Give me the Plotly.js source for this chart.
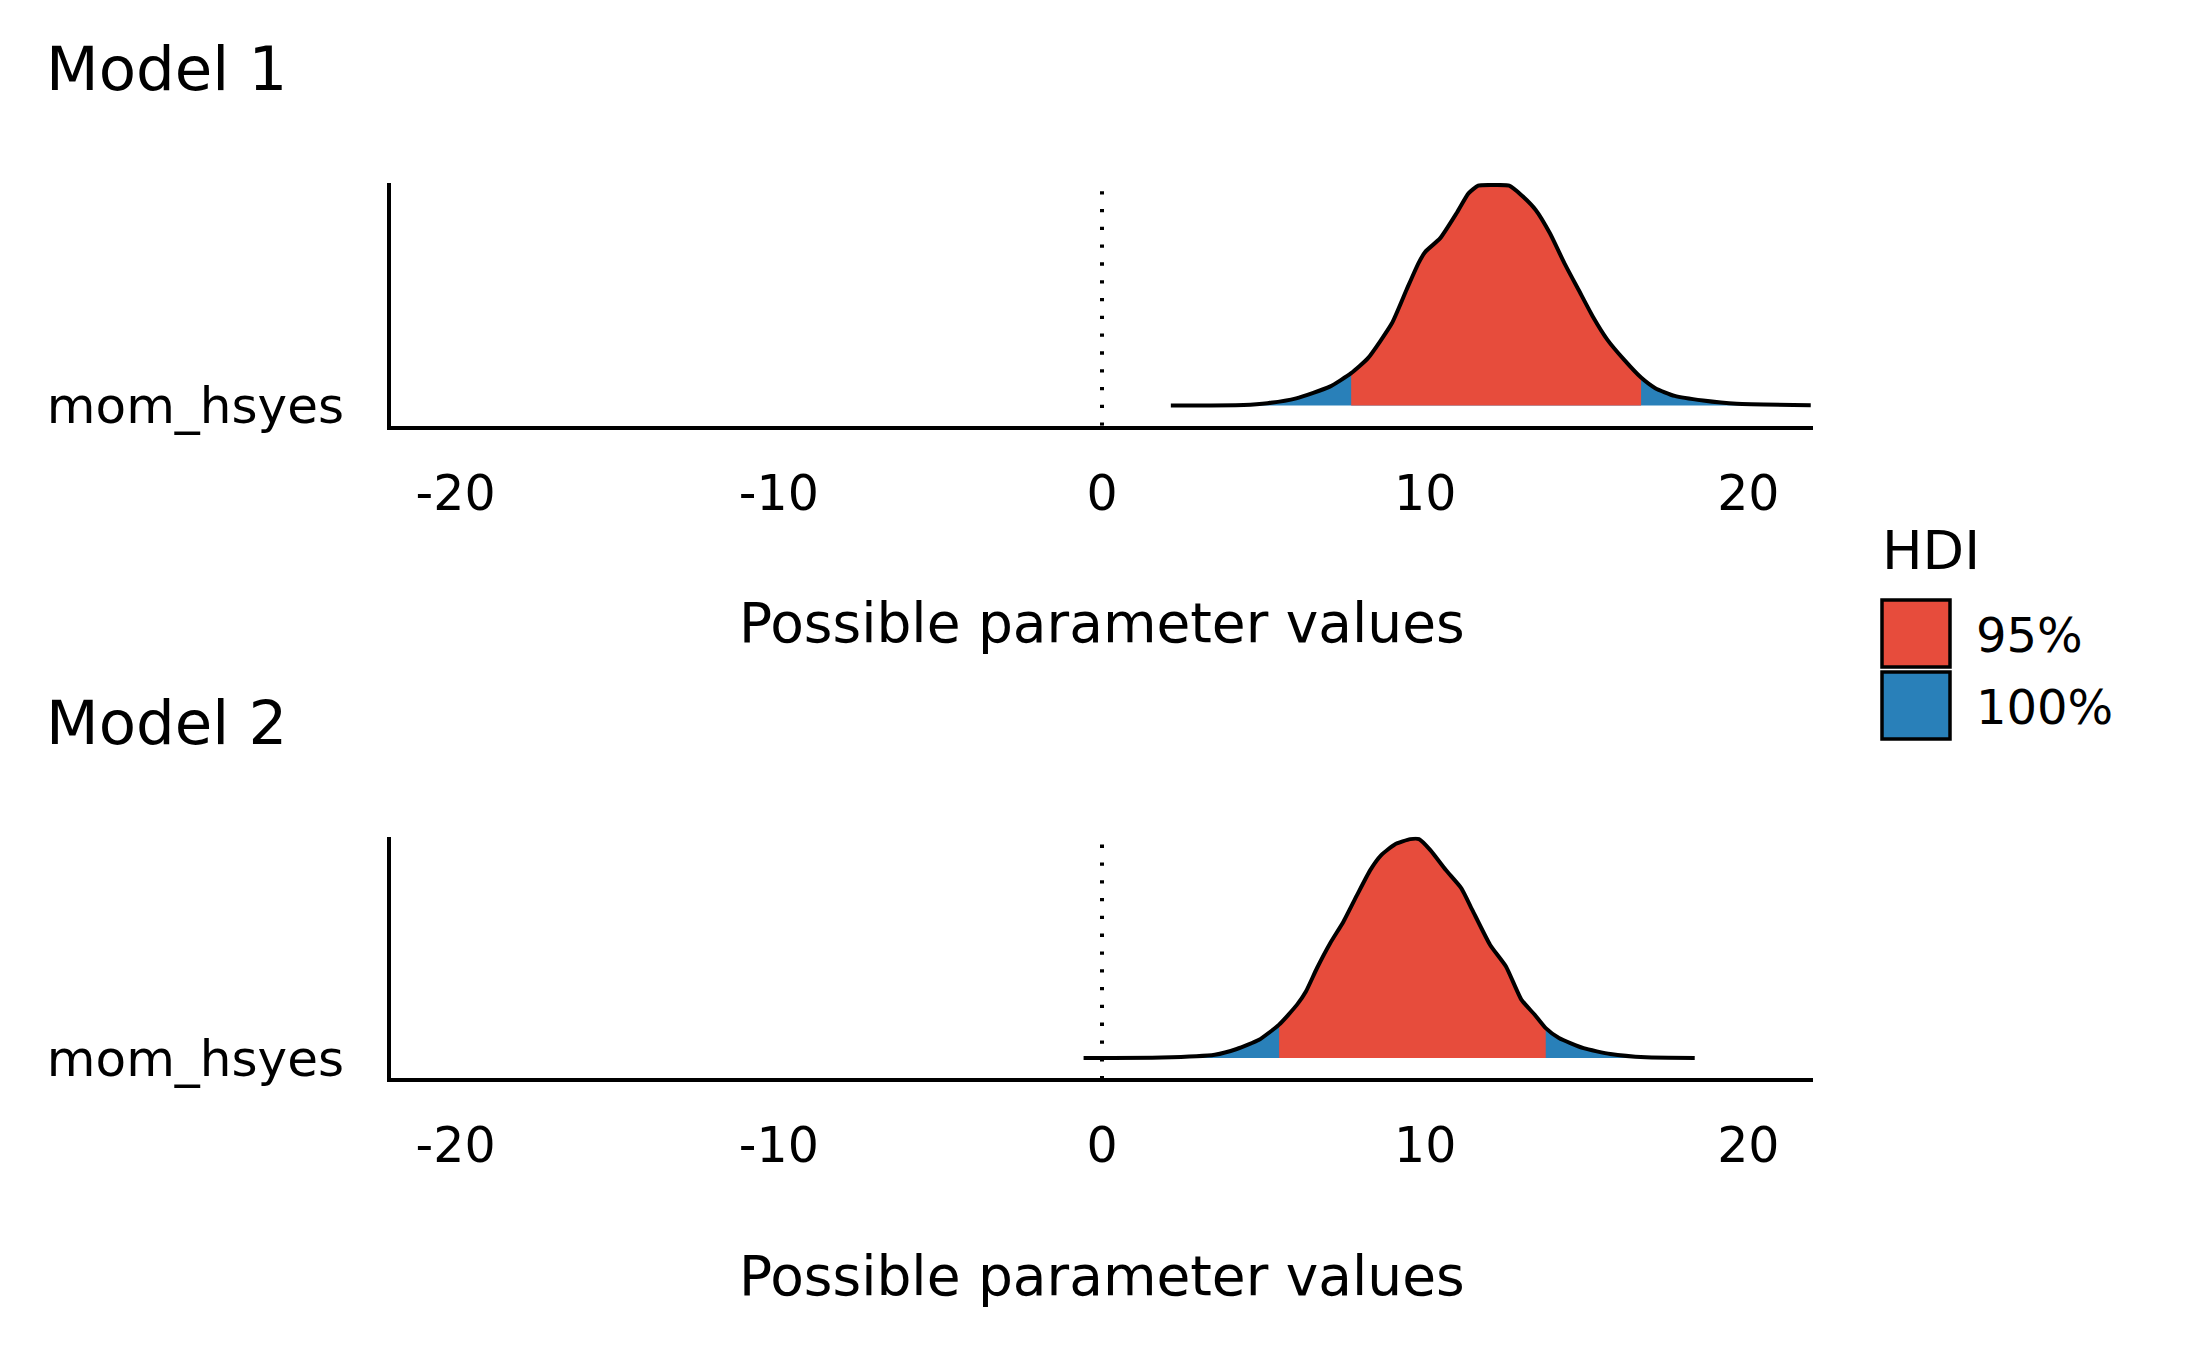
<!DOCTYPE html>
<html>
<head>
<meta charset="utf-8">
<script src="https://cdn.plot.ly/plotly-3.0.1.min.js"></script>
<style>
  body { margin: 0; background: #fff; }
  #grafico { width: 2187px; height: 1351px; }
</style>
</head>
<body>
<div id="grafico"></div>
<script>
// Densidades posteriores (altura normalizada pelo pico)
const model1X = [2.13, 4.38, 5.12, 6.01, 7.05, 7.71, 8.23, 8.97, 9.42, 9.79, 10.01, 10.46, 10.97, 11.34, 11.64, 12.10, 12.60, 12.97, 13.42, 13.86, 14.31, 14.75, 15.19, 15.64, 16.16, 16.68, 17.12, 17.72, 18.60, 19.64, 21.93];
const model1Y = [0, 0.003, 0.011, 0.033, 0.086, 0.147, 0.215, 0.373, 0.524, 0.645, 0.698, 0.758, 0.872, 0.962, 0.997, 1.0, 0.997, 0.955, 0.887, 0.781, 0.645, 0.524, 0.403, 0.298, 0.207, 0.127, 0.079, 0.044, 0.023, 0.008, 0.002];
const model1Hdi = [7.71, 16.68];

const model2X = [-0.57, 1.84, 3.49, 4.17, 4.86, 5.48, 6.03, 6.31, 6.65, 7.06, 7.47, 7.89, 8.30, 8.64, 9.06, 9.54, 9.81, 10.16, 10.64, 11.12, 11.46, 12.01, 12.50, 12.98, 13.39, 13.73, 14.14, 14.90, 15.73, 16.83, 18.34];
const model2Y = [0, 0.002, 0.015, 0.041, 0.083, 0.152, 0.242, 0.303, 0.409, 0.523, 0.621, 0.742, 0.856, 0.924, 0.973, 0.997, 0.997, 0.947, 0.856, 0.773, 0.674, 0.515, 0.417, 0.265, 0.197, 0.136, 0.091, 0.045, 0.018, 0.003, 0];
const model2Hdi = [5.48, 13.73];

const modelNames = ['Model 1', 'Model 2'];
const paramLabel = 'mom_hsyes';
const tickVals = [-20, -10, 0, 10, 20];
const tickText = ['-20', '-10', '0', '10', '20'];
const hdiLabels = ['95%', '100%'];

const RED = '#e74c3c';
const BLUE = '#2980b9';
const FONT = 'DejaVu Sans';
const W = 2187, H = 1351;
const px = (v) => v / W;
const py = (v) => 1 - v / H;

function tracosModelo(xs, ys, hdi, xa, ya) {
    const dentro = xs.map((x, i) => [x, ys[i]]).filter(p => p[0] >= hdi[0] && p[0] <= hdi[1]);
    const linha = { shape: 'spline', smoothing: 0.5 };
    return [
        { x: xs, y: ys, xaxis: xa, yaxis: ya, type: 'scatter', mode: 'lines', fill: 'tozeroy',
          fillcolor: BLUE, line: Object.assign({ width: 0, color: BLUE }, linha), hoverinfo: 'skip' },
        { x: dentro.map(p => p[0]), y: dentro.map(p => p[1]), xaxis: xa, yaxis: ya, type: 'scatter', mode: 'lines',
          fill: 'tozeroy', fillcolor: RED, line: Object.assign({ width: 0, color: RED }, linha), hoverinfo: 'skip' },
        { x: xs, y: ys, xaxis: xa, yaxis: ya, type: 'scatter', mode: 'lines',
          line: Object.assign({ width: 4, color: '#000' }, linha) }
    ];
}

const data = [].concat(
    tracosModelo(model1X, model1Y, model1Hdi, 'x', 'y'),
    tracosModelo(model2X, model2Y, model2Hdi, 'x2', 'y2')
);

const yRange = [-0.091, 1.009];
const xDomain = [px(391), px(1813)];

function eixoX(anchor) {
    return {
        anchor: anchor, domain: xDomain, range: [-22, 22],
        tickvals: tickVals, ticktext: tickText, ticks: 'outside', ticklen: 21, tickcolor: 'rgba(0,0,0,0)',
        tickfont: { family: FONT, size: 49, color: '#000' },
        showline: true, linecolor: '#000', linewidth: 4,
        showgrid: false, zeroline: false, fixedrange: true
    };
}

function eixoY(anchor, domain) {
    return {
        anchor: anchor, domain: domain, range: yRange,
        tickvals: [0], ticktext: [paramLabel], ticks: 'outside', ticklen: 33, tickcolor: 'rgba(0,0,0,0)',
        tickfont: { family: FONT, size: 50, color: '#000' },
        showline: true, linecolor: '#000', linewidth: 4,
        showgrid: false, zeroline: false, fixedrange: true
    };
}

function texto(t, x, y, size, xanchor) {
    return { xref: 'paper', yref: 'paper', showarrow: false, text: t, x: x, y: y,
        xanchor: xanchor, yanchor: 'middle', font: { family: FONT, size: size, color: '#000' } };
}

const annotations = [
    texto(modelNames[0], px(44), py(68), 61, 'left'),
    texto(modelNames[1], px(44), py(722), 61, 'left'),
    texto('Possible parameter values', (xDomain[0] + xDomain[1]) / 2, py(623), 55, 'center'),
    texto('Possible parameter values', (xDomain[0] + xDomain[1]) / 2, py(1276), 55, 'center'),
    texto('HDI', px(1880), py(550), 54, 'left'),
    texto(hdiLabels[0], px(1974), py(635), 48, 'left'),
    texto(hdiLabels[1], px(1974), py(707), 48, 'left')
];

// linha pontilhada em zero, desenhada de cima para baixo
const linhaZero = (ya) => ({
    type: 'line', xref: ya === 'y' ? 'x' : 'x2', yref: ya, x0: 0, x1: 0, y0: 0.972, y1: yRange[0],
    line: { color: '#000', width: 4, dash: '3.3px,14.5px' }
});

const shapes = [
    linhaZero('y'), linhaZero('y2'),
    { type: 'rect', xref: 'paper', yref: 'paper', x0: px(1882), x1: px(1950), y0: py(667), y1: py(600),
      fillcolor: RED, line: { color: '#000', width: 3.5 } },
    { type: 'rect', xref: 'paper', yref: 'paper', x0: px(1882), x1: px(1950), y0: py(739), y1: py(672),
      fillcolor: BLUE, line: { color: '#000', width: 3.5 } }
];

const layout = {
    width: W, height: H,
    margin: { l: 0, r: 0, t: 0, b: 0 },
    paper_bgcolor: '#fff', plot_bgcolor: '#fff',
    showlegend: false,
    xaxis: eixoX('y'),
    yaxis: eixoY('x', [py(425.7), py(183)]),
    xaxis2: eixoX('y2'),
    yaxis2: eixoY('x2', [py(1078), py(836.5)]),
    annotations: annotations,
    shapes: shapes
};

Plotly.newPlot('grafico', data, layout, { displayModeBar: false, staticPlot: true });
</script>
</body>
</html>
